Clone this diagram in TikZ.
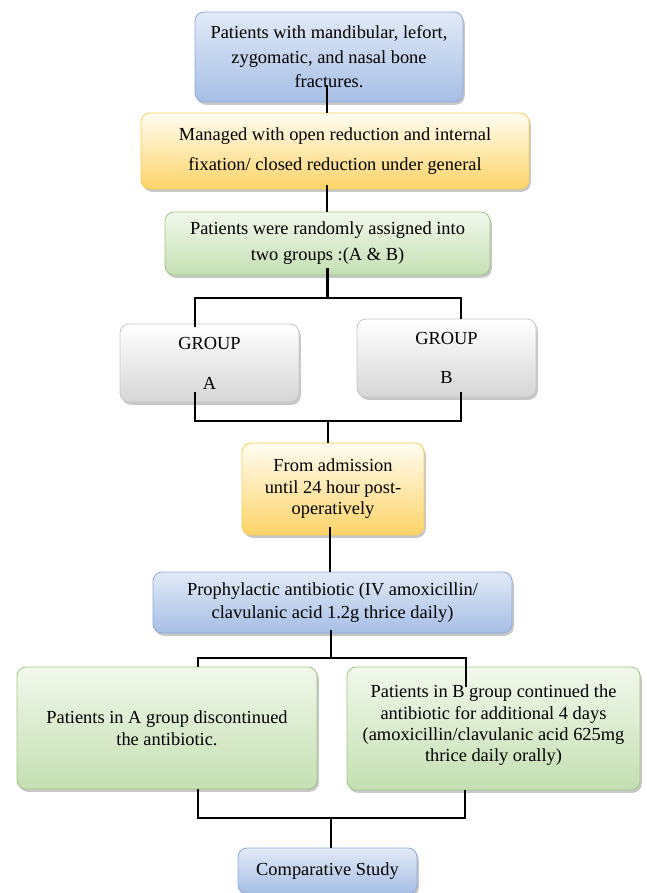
\documentclass[tikz,border=0pt]{standalone}
\usepackage{fontspec}
\setmainfont{Liberation Serif}
\usetikzlibrary{shadows}

\definecolor{bluetop}{RGB}{226,234,247}
\definecolor{bluebot}{RGB}{166,190,229}
\definecolor{blueedge}{RGB}{140,170,214}
\definecolor{yeltop}{RGB}{255,253,242}
\definecolor{yelbot}{RGB}{252,211,104}
\definecolor{yeledge}{RGB}{250,205,85}
\definecolor{grntop}{RGB}{242,248,236}
\definecolor{grnbot}{RGB}{196,223,178}
\definecolor{grnedge}{RGB}{158,200,128}
\definecolor{grytop}{RGB}{255,255,255}
\definecolor{grybot}{RGB}{214,214,214}
\definecolor{gryedge}{RGB}{200,200,200}

\newcommand{\flowfont}[1]{\fontsize{18.4}{#1}\selectfont}

\tikzset{
  basebox/.style={rectangle, rounded corners=9pt, line width=0.8pt, align=center,
    inner sep=2pt,
    drop shadow={shadow xshift=1.8pt, shadow yshift=-2.8pt, opacity=0.4, fill=black!55}},
  bluebox/.style={basebox, draw=blueedge, top color=bluetop, bottom color=bluebot},
  yelbox/.style={basebox, draw=yeledge, top color=yeltop, bottom color=yelbot},
  grnbox/.style={basebox, draw=grnedge, top color=grntop, bottom color=grnbot},
  grybox/.style={basebox, draw=gryedge, top color=grytop, bottom color=grybot},
  link/.style={line width=2.8pt, black},
}

\begin{document}
\begin{tikzpicture}[x=1pt,y=-1pt]
  \useasboundingbox (0,0) rectangle (646,893);

  % Boxes
  \node[bluebox, minimum width=268pt, minimum height=90pt, font=\flowfont{24.5}]
    (fract) at (329,57) {Patients with mandibular, lefort,\\zygomatic, and nasal bone\\fractures.};
  \node[yelbox, minimum width=388pt, minimum height=76pt, font=\flowfont{30}]
    (manage) at (335,151) {Managed with open reduction and internal\\fixation/ closed reduction under general};
  \node[grnbox, minimum width=325pt, minimum height=63pt, font=\flowfont{26}]
    (assign) at (327.5,243.5) {Patients were randomly assigned into\\two groups :(A \& B)};
  \node[grybox, minimum width=179pt, minimum height=78pt, font=\flowfont{40}]
    (grpa) at (209.5,363) {GROUP\\A};
  \node[grybox, minimum width=179pt, minimum height=78pt, font=\flowfont{39}]
    (grpb) at (446.5,358) {GROUP\\B};
  \node[yelbox, minimum width=182pt, minimum height=92pt, font=\flowfont{21.5}]
    (admit) at (333,489) {From admission\\until 24 hour post-\\operatively};
  \node[bluebox, minimum width=359pt, minimum height=61pt, font=\flowfont{23}]
    (proph) at (332.5,602.5) {Prophylactic antibiotic (IV amoxicillin/\\clavulanic acid 1.2g thrice daily)};
  \node[grnbox, minimum width=300pt, minimum height=122pt, font=\flowfont{22}]
    (conta) at (167,728) {Patients in A group discontinued\\the antibiotic.};
  \node[grnbox, minimum width=293pt, minimum height=123pt, font=\flowfont{21.3}]
    (contb) at (493.5,728.5) {Patients in B group continued the\\antibiotic for additional 4 days\\(amoxicillin/clavulanic acid 625mg\\thrice daily orally)\\[-11pt]\mbox{}};
  \node[bluebox, minimum width=179pt, minimum height=46pt, font=\flowfont{22}]
    (comp) at (327.5,871) {Comparative Study};

  % Junctions
  \coordinate (ja) at (195,298);
  \coordinate (jb) at (461,298);
  \coordinate (ka) at (195,421);
  \coordinate (kb) at (461,421);
  \coordinate (la) at (198,658);
  \coordinate (lb) at (466,658);
  \coordinate (ma) at (198,818);
  \coordinate (mb) at (465,818);

  % Connectors
  \draw[link] ([xshift=-2pt,yshift=17pt]fract.south) -- ([xshift=-2pt]fract.south |- manage.north);
  \draw[link] ([xshift=-8pt,yshift=4pt]manage.south) -- ([xshift=-8pt]manage.south |- assign.north);
  \draw[link] ([yshift=7pt]assign.south) -- (assign.south |- ja);
  \draw[link] ([yshift=-3pt]ja |- grpa.north) -- (ja) -- (jb) -- (jb |- grpb.north);
  \draw[link] ([yshift=10pt]ka |- grpa.south) -- (ka) -- (kb) -- ([yshift=5pt]kb |- grpb.south);
  \draw[link] (328,421) -- (admit.north -| 328,0);
  \draw[link] ([xshift=-3pt,yshift=8pt]admit.south) -- ([xshift=-3pt]admit.south |- proph.north);
  \draw[link] ([xshift=-1.5pt,yshift=3pt]proph.south) -- ([xshift=-1.5pt]proph.south |- la);
  \draw[link] (la |- conta.north) -- (la) -- (lb) -- ([yshift=-20pt]lb |- contb.north);
  \draw[link] (ma |- conta.south) -- (ma) -- (mb) -- (mb |- contb.south);
  \draw[link] (331,818) -- (comp.north -| 331,0);
\end{tikzpicture}
\end{document}
